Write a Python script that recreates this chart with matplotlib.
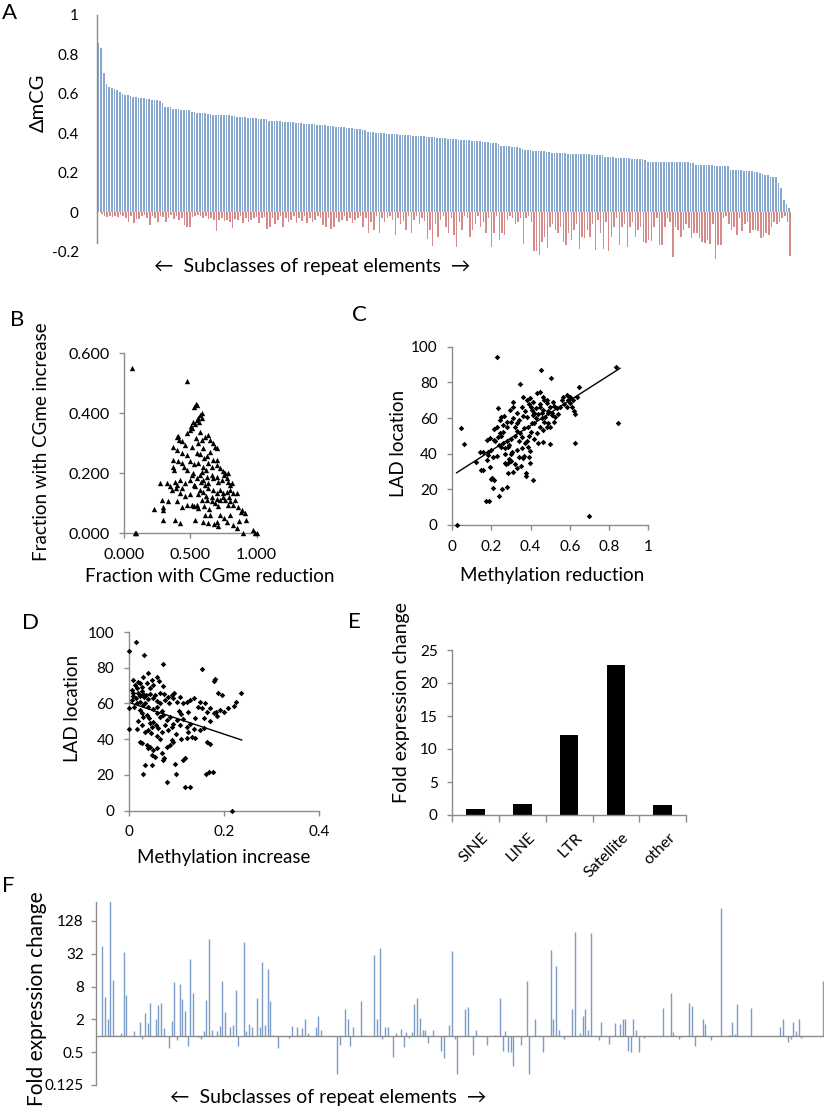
import matplotlib
matplotlib.use('Agg')
from matplotlib import pyplot as plt
import matplotlib.transforms as mtrans
import numpy as np

plt.rcParams['font.family'] = ['Lato', 'DejaVu Sans']

# ---- panel A: delta mCG per repeat subclass (sorted by reduction)
a_reduction = [
    0.856, 0.831, 0.704, 0.648, 0.636, 0.628, 0.624, 0.619, 0.609, 0.599,
    0.595, 0.593, 0.589, 0.584, 0.584, 0.580, 0.579, 0.577, 0.574, 0.572,
    0.570, 0.569, 0.569, 0.562, 0.555, 0.535, 0.535, 0.531, 0.524, 0.523,
    0.521, 0.520, 0.519, 0.518, 0.516, 0.509, 0.507, 0.505, 0.504, 0.503,
    0.502, 0.496, 0.495, 0.494, 0.493, 0.492, 0.492, 0.491, 0.490, 0.490,
    0.489, 0.489, 0.484, 0.483, 0.482, 0.480, 0.479, 0.478, 0.476, 0.475,
    0.473, 0.472, 0.471, 0.470, 0.464, 0.463, 0.462, 0.461, 0.460, 0.459,
    0.458, 0.457, 0.456, 0.455, 0.454, 0.453, 0.450, 0.449, 0.448, 0.447,
    0.446, 0.445, 0.444, 0.442, 0.441, 0.440, 0.439, 0.438, 0.437, 0.433,
    0.432, 0.430, 0.429, 0.427, 0.426, 0.424, 0.423, 0.421, 0.420, 0.418,
    0.416, 0.408, 0.406, 0.405, 0.403, 0.402, 0.400, 0.399, 0.398, 0.397,
    0.396, 0.395, 0.394, 0.393, 0.392, 0.391, 0.390, 0.389, 0.388, 0.387,
    0.386, 0.385, 0.384, 0.383, 0.382, 0.381, 0.380, 0.378, 0.377, 0.375,
    0.374, 0.373, 0.372, 0.371, 0.370, 0.368, 0.366, 0.365, 0.364, 0.363,
    0.362, 0.361, 0.360, 0.358, 0.357, 0.355, 0.353, 0.351, 0.350, 0.349,
    0.345, 0.336, 0.335, 0.334, 0.333, 0.332, 0.331, 0.330, 0.325, 0.320,
    0.315, 0.314, 0.313, 0.312, 0.311, 0.310, 0.309, 0.308, 0.306, 0.305,
    0.300, 0.299, 0.299, 0.298, 0.297, 0.297, 0.296, 0.295, 0.295, 0.294,
    0.294, 0.293, 0.293, 0.292, 0.292, 0.291, 0.291, 0.290, 0.290, 0.289,
    0.280, 0.279, 0.278, 0.277, 0.276, 0.275, 0.274, 0.274, 0.273, 0.272,
    0.271, 0.270, 0.269, 0.268, 0.267, 0.266, 0.256, 0.256, 0.255, 0.255,
    0.255, 0.254, 0.254, 0.254, 0.253, 0.253, 0.253, 0.253, 0.252, 0.252,
    0.252, 0.252, 0.251, 0.251, 0.240, 0.239, 0.239, 0.238, 0.238, 0.237,
    0.237, 0.236, 0.236, 0.235, 0.235, 0.234, 0.234, 0.215, 0.214, 0.213,
    0.212, 0.211, 0.210, 0.209, 0.208, 0.206, 0.205, 0.205, 0.198, 0.195,
    0.190, 0.186, 0.176, 0.176, 0.176, 0.145, 0.120, 0.060, 0.040, 0.020]
a_increase = [
    0.000, -0.010, -0.020, -0.027, -0.020, -0.027, -0.020, -0.025, -0.015, -0.020,
    -0.030, -0.050, -0.020, -0.054, -0.035, -0.038, -0.020, -0.015, -0.030, -0.066,
    -0.020, -0.030, -0.050, -0.020, -0.025, -0.049, -0.030, -0.015, -0.037, -0.020,
    -0.040, -0.030, -0.066, -0.074, -0.078, -0.025, -0.020, -0.015, -0.020, -0.030,
    -0.020, -0.035, -0.030, -0.040, -0.095, -0.040, -0.030, -0.047, -0.040, -0.050,
    -0.083, -0.035, -0.040, -0.020, -0.054, -0.030, -0.050, -0.040, -0.030, -0.025,
    -0.057, -0.030, -0.025, -0.088, -0.074, -0.030, -0.060, -0.040, -0.020, -0.074,
    -0.030, -0.050, -0.040, -0.020, -0.054, -0.030, -0.047, -0.020, -0.054, -0.030,
    -0.050, -0.040, -0.020, -0.030, -0.066, -0.074, -0.030, -0.088, -0.074, -0.030,
    -0.050, -0.040, -0.020, -0.047, -0.030, -0.054, -0.040, -0.030, -0.020, -0.074,
    -0.030, -0.108, -0.050, -0.090, -0.020, -0.105, -0.030, -0.050, -0.030, -0.020,
    -0.040, -0.117, -0.030, -0.060, -0.045, -0.090, -0.020, -0.108, -0.040, -0.020,
    -0.060, -0.030, -0.047, -0.139, -0.090, -0.172, -0.060, -0.125, -0.040, -0.020,
    -0.074, -0.105, -0.030, -0.117, -0.180, -0.050, -0.090, -0.020, -0.030, -0.129,
    -0.090, -0.060, -0.020, -0.074, -0.050, -0.108, -0.030, -0.179, -0.108, -0.020,
    -0.142, -0.105, -0.117, -0.040, -0.020, -0.030, -0.060, -0.050, -0.030, -0.162,
    -0.030, -0.020, -0.050, -0.200, -0.196, -0.218, -0.150, -0.125, -0.185, -0.074,
    -0.060, -0.090, -0.108, -0.074, -0.150, -0.167, -0.108, -0.142, -0.090, -0.060,
    -0.190, -0.125, -0.134, -0.090, -0.125, -0.060, -0.193, -0.040, -0.105, -0.190,
    -0.050, -0.197, -0.125, -0.074, -0.030, -0.167, -0.074, -0.060, -0.176, -0.074,
    -0.050, -0.125, -0.090, -0.074, -0.150, -0.159, -0.142, -0.145, -0.074, -0.030,
    -0.167, -0.167, -0.074, -0.030, -0.050, -0.230, -0.074, -0.090, -0.125, -0.090,
    -0.060, -0.080, -0.134, -0.108, -0.105, -0.134, -0.150, -0.159, -0.142, -0.163,
    -0.060, -0.240, -0.167, -0.167, -0.030, -0.020, -0.060, -0.090, -0.074, -0.117,
    -0.030, -0.095, -0.060, -0.050, -0.105, -0.090, -0.090, -0.095, -0.134, -0.125,
    -0.105, -0.117, -0.074, -0.050, -0.060, -0.050, -0.030, -0.020, -0.050, -0.223]

# ---- panel B: fraction reduced vs fraction increased
b_x = [0.058, 0.477, 0.085, 0.093,
       0.543, 0.548, 0.530, 0.585, 0.573, 0.560, 0.548, 0.518, 0.535, 0.503, 0.497, 0.472, 0.510, 0.568, 0.588,
       0.397, 0.417, 0.435, 0.410, 0.573, 0.610, 0.636, 0.648, 0.673, 0.686, 0.698, 0.590, 0.540,
       0.372, 0.397, 0.435, 0.472, 0.510, 0.548, 0.573, 0.598, 0.623, 0.560, 0.460, 0.650, 0.600,
       0.372, 0.372, 0.377, 0.435, 0.472, 0.523, 0.560, 0.598, 0.636, 0.673, 0.698, 0.724, 0.749, 0.760,
       0.410, 0.500, 0.530, 0.585, 0.615, 0.660, 0.700, 0.455,
       0.271, 0.322, 0.347, 0.359, 0.384, 0.422, 0.460, 0.497, 0.510, 0.548, 0.573, 0.598, 0.623, 0.636,
       0.673, 0.698, 0.711, 0.736, 0.774, 0.786, 0.799, 0.812, 0.755, 0.780, 0.660, 0.610, 0.530, 0.440,
       0.400, 0.580,
       0.535, 0.573, 0.598, 0.636, 0.673, 0.698, 0.724, 0.749, 0.774, 0.799, 0.824, 0.849, 0.560, 0.620,
       0.660, 0.700, 0.745, 0.790, 0.500, 0.460, 0.420, 0.390,
       0.284, 0.296, 0.334, 0.397, 0.435, 0.472, 0.510, 0.548, 0.585, 0.623, 0.661, 0.686, 0.724, 0.761,
       0.799, 0.824, 0.862, 0.887, 0.912, 0.920, 0.530, 0.560, 0.600, 0.640, 0.710, 0.780, 0.835, 0.880,
       0.229, 0.296, 0.296, 0.384, 0.422, 0.535, 0.598, 0.636, 0.698, 0.711, 0.774, 0.824, 0.849, 0.894,
       0.970, 0.987, 1.000, 0.680, 0.720, 0.650, 0.610, 0.750, 0.800, 0.870]
b_y = [0.552, 0.506, 0.000, 0.000,
       0.431, 0.428, 0.422, 0.400, 0.394, 0.383, 0.378, 0.372, 0.365, 0.356, 0.344, 0.333, 0.350, 0.370, 0.385,
       0.322, 0.311, 0.306, 0.325, 0.336, 0.322, 0.328, 0.311, 0.300, 0.289, 0.283, 0.310, 0.318,
       0.289, 0.278, 0.267, 0.261, 0.289, 0.267, 0.263, 0.283, 0.256, 0.300, 0.295, 0.270, 0.250,
       0.244, 0.222, 0.211, 0.233, 0.211, 0.200, 0.233, 0.222, 0.233, 0.244, 0.228, 0.217, 0.206, 0.200,
       0.240, 0.240, 0.230, 0.205, 0.210, 0.220, 0.245, 0.220,
       0.167, 0.167, 0.156, 0.144, 0.172, 0.178, 0.167, 0.178, 0.194, 0.183, 0.194, 0.178, 0.189, 0.167,
       0.183, 0.189, 0.172, 0.178, 0.183, 0.172, 0.161, 0.167, 0.195, 0.200, 0.195, 0.160, 0.160, 0.150,
       0.160, 0.170,
       0.156, 0.144, 0.139, 0.150, 0.144, 0.133, 0.144, 0.133, 0.139, 0.144, 0.133, 0.133, 0.130, 0.125,
       0.120, 0.115, 0.120, 0.122, 0.130, 0.125, 0.135, 0.150,
       0.111, 0.089, 0.106, 0.106, 0.089, 0.094, 0.094, 0.094, 0.111, 0.111, 0.106, 0.100, 0.111, 0.111,
       0.106, 0.094, 0.089, 0.078, 0.067, 0.044, 0.090, 0.085, 0.090, 0.080, 0.090, 0.095, 0.110, 0.070,
       0.081, 0.078, 0.044, 0.044, 0.033, 0.044, 0.036, 0.033, 0.039, 0.024, 0.039, 0.028, 0.017, 0.000,
       0.011, 0.002, 0.000, 0.030, 0.060, 0.060, 0.060, 0.050, 0.060, 0.040]

# ---- panel C: methylation reduction vs LAD location
c_x = [0.022, 0.044, 0.061, 0.121, 0.141, 0.145, 0.230, 0.700, 0.848, 0.835, 0.451, 0.504, 0.346, 0.647,
       0.629, 0.629, 0.500, 0.414, 0.172, 0.186, 0.239, 0.208, 0.255, 0.278, 0.204, 0.198, 0.215, 0.376,
       0.376, 0.320, 0.329, 0.286, 0.270, 0.274, 0.397, 0.193, 0.179, 0.184, 0.210, 0.227, 0.175, 0.193,
       0.235, 0.244, 0.261, 0.215, 0.230, 0.244, 0.249, 0.235, 0.269, 0.286, 0.303, 0.295, 0.308, 0.312,
       0.329, 0.261, 0.278, 0.346, 0.354, 0.366, 0.354, 0.366, 0.359, 0.388, 0.397, 0.363, 0.380, 0.397,
       0.405, 0.414, 0.428, 0.431, 0.448, 0.465, 0.482, 0.448, 0.465, 0.482, 0.499, 0.516, 0.457, 0.474,
       0.491, 0.508, 0.525, 0.533, 0.550, 0.567, 0.584, 0.601, 0.584, 0.601, 0.618, 0.635, 0.431, 0.448,
       0.465, 0.482, 0.440, 0.465, 0.388, 0.405, 0.380, 0.329, 0.354, 0.158, 0.180, 0.158, 0.215,
       0.280, 0.290, 0.300, 0.310, 0.320, 0.340, 0.250, 0.260, 0.270, 0.290, 0.300, 0.310, 0.330, 0.340,
       0.360, 0.370, 0.390, 0.400, 0.410, 0.420, 0.430, 0.440, 0.450, 0.460, 0.470, 0.490, 0.510, 0.520,
       0.540, 0.560, 0.570, 0.590, 0.610, 0.620, 0.420, 0.400, 0.380, 0.370, 0.390, 0.415, 0.470, 0.490,
       0.500, 0.520, 0.300, 0.320, 0.330, 0.280, 0.265, 0.250, 0.240, 0.220, 0.200, 0.300, 0.285, 0.350,
       0.340, 0.390]
c_y = [0.0, 54.4, 45.2, 35.1, 41.1, 30.7, 94.2, 5.0, 57.2, 88.8, 86.9, 82.2, 78.9, 77.2,
       62.1, 45.8, 45.4, 25.0, 13.5, 13.3, 16.4, 20.6, 20.0, 21.5, 26.2, 25.6, 25.2, 29.0,
       27.7, 34.2, 31.8, 29.0, 35.0, 34.2, 35.0, 32.7, 36.4, 39.3, 38.3, 38.7, 47.7, 48.6,
       49.5, 51.4, 52.3, 53.6, 54.8, 58.9, 60.7, 65.4, 43.0, 43.9, 41.1, 64.5, 66.4, 69.2,
       57.0, 56.0, 55.0, 51.4, 49.5, 54.2, 43.0, 38.7, 37.4, 43.9, 41.7, 72.0, 70.1, 71.0,
       64.5, 61.7, 65.4, 73.8, 74.8, 72.0, 70.1, 66.4, 64.5, 68.2, 66.4, 69.2, 59.8, 60.7,
       62.6, 61.7, 60.7, 65.4, 66.4, 72.0, 72.9, 72.0, 66.4, 68.2, 70.1, 72.0, 51.4, 55.1,
       53.3, 55.1, 45.8, 46.7, 55.1, 57.0, 60.7, 62.6, 66.4, 30.8, 41.1, 41.1, 47.7,
       47.0, 45.0, 58.0, 60.0, 55.0, 59.0, 44.0, 46.0, 40.0, 37.0, 36.0, 30.0, 42.0, 47.0,
       61.0, 64.0, 68.0, 66.0, 69.0, 63.0, 60.0, 62.0, 68.0, 63.0, 70.0, 64.0, 63.0, 67.0,
       62.0, 70.0, 68.0, 70.0, 66.0, 64.0, 57.0, 52.0, 47.0, 46.0, 50.0, 48.0, 58.0, 57.0,
       55.0, 58.0, 48.0, 50.0, 53.0, 58.0, 61.0, 50.0, 45.0, 47.0, 42.0, 40.0, 35.0, 33.0,
       38.0, 38.0]
c_trend_x = [0.022, 0.857]
c_trend_y = [29.3, 87.9]

# ---- panel D: methylation increase vs LAD location
d_x = [0.001, 0.015, 0.032, 0.073, 0.000, 0.000, 0.017, 0.153, 0.181, 0.178, 0.188, 0.195, 0.235, 0.220,
       0.209, 0.225, 0.192, 0.183, 0.178, 0.171, 0.186, 0.153, 0.157, 0.150, 0.136, 0.129, 0.122, 0.108,
       0.115, 0.101, 0.094, 0.076, 0.083, 0.090, 0.071, 0.048, 0.059, 0.064, 0.038, 0.045, 0.052, 0.010,
       0.013, 0.017, 0.024, 0.027, 0.006, 0.008, 0.020, 0.024, 0.030, 0.032, 0.036, 0.041, 0.045, 0.050,
       0.055, 0.059, 0.006, 0.017, 0.024, 0.024, 0.027, 0.031, 0.038, 0.043, 0.045, 0.048, 0.052, 0.057,
       0.062, 0.041, 0.046, 0.059, 0.066, 0.073, 0.080, 0.087, 0.094, 0.101, 0.108, 0.115, 0.122, 0.129,
       0.136, 0.076, 0.083, 0.090, 0.024, 0.027, 0.038, 0.041, 0.045, 0.052, 0.059, 0.048, 0.055, 0.069,
       0.073, 0.074, 0.080, 0.087, 0.090, 0.094, 0.110, 0.122, 0.132, 0.139, 0.164, 0.170, 0.115, 0.118,
       0.097, 0.150, 0.157, 0.125, 0.034, 0.048, 0.031, 0.080, 0.099, 0.162, 0.169, 0.176, 0.118, 0.129,
       0.217,
       0.010, 0.015, 0.028, 0.035, 0.040, 0.050, 0.060, 0.065, 0.070, 0.030, 0.012, 0.020, 0.028, 0.035,
       0.060, 0.065, 0.070, 0.100, 0.105, 0.110, 0.125, 0.140, 0.145, 0.160, 0.165, 0.170, 0.200, 0.095,
       0.085, 0.040, 0.030, 0.020, 0.065, 0.075]
d_y = [89.1, 94.2, 87.1, 82.2, 57.3, 45.7, 45.7, 79.2, 73.5, 72.8, 65.7, 64.8, 65.7, 58.8,
       57.3, 61.0, 56.4, 55.4, 54.9, 57.3, 53.0, 57.7, 51.7, 61.0, 62.9, 62.0, 61.0, 63.8,
       60.1, 61.0, 62.9, 62.0, 63.8, 64.6, 69.8, 73.2, 75.0, 72.3, 71.3, 68.5, 70.4, 73.2,
       70.4, 68.5, 71.3, 69.4, 67.6, 65.7, 66.0, 64.0, 65.5, 63.5, 64.5, 62.5, 65.0, 63.0,
       64.5, 61.5, 62.0, 60.1, 61.0, 56.4, 54.5, 52.6, 53.5, 51.7, 48.9, 47.0, 49.8, 48.0,
       46.1, 45.1, 43.3, 54.5, 52.6, 53.5, 50.5, 52.4, 48.7, 50.5, 47.7, 51.4, 46.8, 48.6,
       45.8, 47.7, 44.9, 46.8, 38.6, 37.7, 36.7, 34.9, 35.8, 33.9, 34.9, 31.1, 30.2, 32.1,
       28.3, 29.2, 35.8, 36.7, 39.5, 38.6, 39.9, 40.5, 41.4, 40.5, 38.1, 37.2, 28.3, 29.2,
       25.9, 45.1, 46.1, 44.2, 25.5, 25.5, 20.5, 16.1, 20.5, 20.5, 21.4, 21.8, 13.4, 13.4,
       0.0,
       64.0, 63.0, 67.0, 60.0, 58.0, 57.0, 58.0, 60.0, 56.0, 59.0, 58.0, 50.0, 48.0, 44.0,
       42.0, 40.0, 44.0, 43.0, 56.0, 54.0, 55.0, 52.0, 58.0, 60.0, 55.0, 50.0, 55.0, 66.0,
       60.0, 77.0, 75.0, 72.0, 66.0, 65.0]
d_trend_x = [0.001, 0.237]
d_trend_y = [60.5, 39.5]

# ---- panel E: fold expression change per repeat class
e_classes = ['SINE', 'LINE', 'LTR', 'Satellite', 'other']
e_fold = [0.86, 1.67, 12.07, 22.68, 1.5]

# ---- panel F: fold expression change per subclass (subclasses without a visible bar sit at 1)
f_count = 273
f_idx = [2, 3, 4, 5, 6, 7, 9, 10, 11, 14, 16, 17, 18, 19, 20, 21, 22, 23, 24, 25,
         27, 28, 29, 30, 31, 32, 33, 34, 35, 36, 38, 39, 40, 41, 42, 43, 45, 46, 47, 48,
         49, 50, 51, 52, 53, 55, 56, 57, 58, 60, 61, 62, 63, 64, 65, 66, 68, 72, 73, 75,
         76, 77, 78, 79, 82, 83, 84, 90, 91, 93, 94, 95, 96, 99, 100, 104, 105, 106, 107, 108,
         109, 111, 112, 114, 115, 116, 117, 118, 119, 120, 121, 122, 123, 124, 126, 129, 130, 132, 133, 134,
         135, 138, 139, 141, 142, 146, 149, 151, 152, 153, 154, 155, 156, 159, 161, 162, 164, 167, 170, 171,
         172, 173, 175, 178, 179, 181, 182, 183, 184, 185, 188, 189, 192, 194, 196, 197, 198, 199, 200, 201,
         202, 203, 205, 212, 215, 216, 218, 219, 222, 223, 224, 225, 227, 228, 230, 234, 237, 238, 239, 240,
         245, 256, 257, 259, 260, 261, 262, 263, 264, 272]
f_fold = [44, 5.2, 2.0, 295, 10.5, 1.05, 1.13, 35, 5.5, 1.2, 1.8, 0.89, 2.6, 1.7, 4.0, 1.0, 2.0, 3.7, 4.0, 1.4,
          0.6, 1.9, 9.9, 0.82, 8.8, 4.7, 2.8, 0.66, 26, 6.2, 0.96, 0.86, 1.2, 4.6, 60, 1.3, 1.2, 1.5, 10.2, 2.7,
          0.96, 1.46, 1.55, 7.0, 0.65, 52, 1.2, 1.66, 1.46, 5.0, 1.46, 22.5, 1.55, 17, 4.3, 1.05, 0.6, 0.92, 1.5, 1.46,
          1.05, 1.4, 2.0, 1.13, 1.46, 2.3, 1.3, 0.195, 0.69, 3.05, 2.0, 0.66, 1.42, 4.3, 1.05, 30, 2.0, 40, 0.86, 1.42,
          1.42, 0.41, 1.13, 1.35, 0.62, 1.18, 0.92, 1.17, 3.76, 5.0, 2.1, 1.3, 1.27, 0.74, 1.27, 0.52, 0.39, 1.57, 36, 0.86,
          0.2, 3.05, 3.4, 0.44, 1.3, 0.69, 1.03, 5.0, 0.52, 1.2, 0.5, 0.5, 0.28, 0.69, 10.1, 0.2, 2.0, 0.5, 37, 2.0,
          19, 1.3, 0.88, 3.05, 80, 1.13, 2.3, 3.05, 1.27, 78, 0.83, 1.8, 0.71, 1.73, 1.66, 2.0, 2.05, 0.52, 0.5, 2.0,
          1.27, 0.5, 0.92, 3.26, 6.2, 1.17, 0.88, 0.94, 4.0, 3.5, 0.65, 1.05, 2.0, 1.66, 0.82, 223, 1.05, 1.78, 1.1, 3.9,
          3.2, 1.46, 2.0, 0.77, 0.88, 1.8, 1.2, 2.0, 0.92, 10.1]

W, H = 825, 1119
fig = plt.figure(figsize=(W / 100.0, H / 100.0), dpi=100)
grey = '#8C8C8C'

def box(l, t, r, b):
    # pixel box -> figure fraction rect
    return [l / W, 1 - b / H, (r - l) / W, (b - t) / H]

def style(ax):
    for s in ['top', 'right']:
        ax.spines[s].set_visible(False)
    for s in ['left', 'bottom']:
        ax.spines[s].set_color(grey)
        ax.spines[s].set_linewidth(1.0)
    ax.tick_params(color=grey, length=3.5, width=1.0, labelsize=11, pad=7)

def ftext(x, y, s, **kw):
    fig.text(x / W, 1 - y / H, s, ha='center', va='center', **kw)

# A
n_a = len(a_reduction)
ax = fig.add_axes(box(96.7, 15, 791, 261.25))
style(ax)
xa = np.arange(n_a)
ax.bar(xa - 0.15, a_reduction, width=0.6, color='#88A7CF', linewidth=0)
ax.bar(xa + 0.15, a_increase, width=0.6, color='#D68A8A', linewidth=0)
ax.set_xlim(-0.8, n_a - 0.5)
ax.set_ylim(-0.25, 1.0)
ax.spines['bottom'].set_visible(False)
ax.spines['left'].set_bounds(-0.155, 1.0)
ax.set_xticks([])
ax.set_yticks([-0.2, 0, 0.2, 0.4, 0.6, 0.8, 1.0])
ax.set_yticklabels(['-0.2', '0', '0.2', '0.4', '0.6', '0.8', '1'])
ax.tick_params(axis='y', length=0, pad=13)
ftext(9, 13, 'A', fontsize=16)
ftext(38, 103, 'ΔmCG', fontsize=14.5, rotation=90)
ftext(312, 267, '\u2190  Subclasses of repeat elements  \u2192', fontsize=14)

# B
ax = fig.add_axes(box(124, 353.3, 256.7, 533.3))
style(ax)
ax.scatter(b_x, b_y, marker='^', s=15, c='k', linewidths=0, clip_on=False, zorder=3)
ax.set_xlim(0, 1.0)
ax.set_ylim(0, 0.6)
ax.set_xticks([0, 0.5, 1.0])
ax.set_yticks([0, 0.2, 0.4, 0.6])
ax.xaxis.set_major_formatter(matplotlib.ticker.FormatStrFormatter('%.3f'))
ax.yaxis.set_major_formatter(matplotlib.ticker.FormatStrFormatter('%.3f'))
ax.tick_params(labelsize=11.5)
ftext(17, 320, 'B', fontsize=16)
ftext(42, 442, 'Fraction with CGme increase', fontsize=13.5, rotation=90)
ftext(210, 577, 'Fraction with CGme reduction', fontsize=13.5)

# C
ax = fig.add_axes(box(452.3, 346.7, 648, 525))
style(ax)
ax.scatter(c_x, c_y, marker='D', s=8, c='k', linewidths=0, clip_on=False, zorder=3)
ax.plot(c_trend_x, c_trend_y, color='k', linewidth=1.0)
ax.set_xlim(0, 1)
ax.set_ylim(0, 100)
ax.set_xticks([0, 0.2, 0.4, 0.6, 0.8, 1])
ax.set_xticklabels(['0', '0.2', '0.4', '0.6', '0.8', '1'])
ax.set_yticks([0, 20, 40, 60, 80, 100])
ftext(359, 315, 'C', fontsize=16)
ftext(398, 443, 'LAD location', fontsize=13.5, rotation=90)
ftext(552, 575, 'Methylation reduction', fontsize=13.5)

# D
ax = fig.add_axes(box(128.7, 632, 319.3, 810.5))
style(ax)
ax.scatter(d_x, d_y, marker='D', s=8, c='k', linewidths=0, clip_on=False, zorder=3)
ax.plot(d_trend_x, d_trend_y, color='k', linewidth=1.0)
ax.set_xlim(0, 0.4)
ax.set_ylim(0, 100)
ax.set_xticks([0, 0.2, 0.4])
ax.set_xticklabels(['0', '0.2', '0.4'])
ax.set_yticks([0, 20, 40, 60, 80, 100])
ftext(31, 623, 'D', fontsize=16)
ftext(72, 708, 'LAD location', fontsize=13.5, rotation=90)
ftext(224, 858, 'Methylation increase', fontsize=13.5)

# E
ax = fig.add_axes(box(452.3, 650, 686, 815))
style(ax)
xe = np.arange(len(e_classes))
ax.bar(xe, e_fold, width=0.4, color='k')
ax.set_xlim(-0.5, len(e_classes) - 0.5)
ax.set_ylim(0, 25)
ax.set_yticks([0, 5, 10, 15, 20, 25])
ax.set_xticks(np.arange(len(e_classes) + 1) - 0.5)
ax.set_xticklabels([])
ax.set_xticks(xe, minor=True)
ax.set_xticklabels(e_classes, minor=True, rotation=45, ha='right', va='top',
                   rotation_mode='anchor', fontsize=11.5)
ax.tick_params(axis='x', which='minor', length=0, pad=11)
ax.tick_params(axis='x', which='major', length=5)
shift = mtrans.ScaledTranslation(6 / 100.0, 0, fig.dpi_scale_trans)
for lab in ax.xaxis.get_minorticklabels():
    lab.set_transform(lab.get_transform() + shift)
ftext(354, 622, 'E', fontsize=16)
ftext(401, 703, 'Fold expression change', fontsize=14, rotation=90)

# F
ax = fig.add_axes(box(95.7, 901.7, 824, 1085))
style(ax)
ax.set_yscale('log', base=2)
ax.vlines(f_idx, 1, f_fold, color='#7C9DC7', linewidth=1.0)
ax.axhline(1, color=grey, linewidth=1.0)
ax.set_xlim(-0.5, f_count - 0.5)
ax.set_ylim(0.125, 289)
ax.spines['bottom'].set_visible(False)
ax.set_xticks([])
ax.set_yticks([0.125, 0.5, 2, 8, 32, 128])
ax.set_yticklabels(['0.125', '0.5', '2', '8', '32', '128'])
ax.yaxis.set_minor_locator(matplotlib.ticker.NullLocator())
ax.tick_params(axis='y', pad=5)
ftext(8, 886, 'F', fontsize=16)
ftext(37, 999, 'Fold expression change', fontsize=15, rotation=90)
ftext(328, 1097, '\u2190  Subclasses of repeat elements  \u2192', fontsize=14)

fig.savefig('out.png', dpi=100)
